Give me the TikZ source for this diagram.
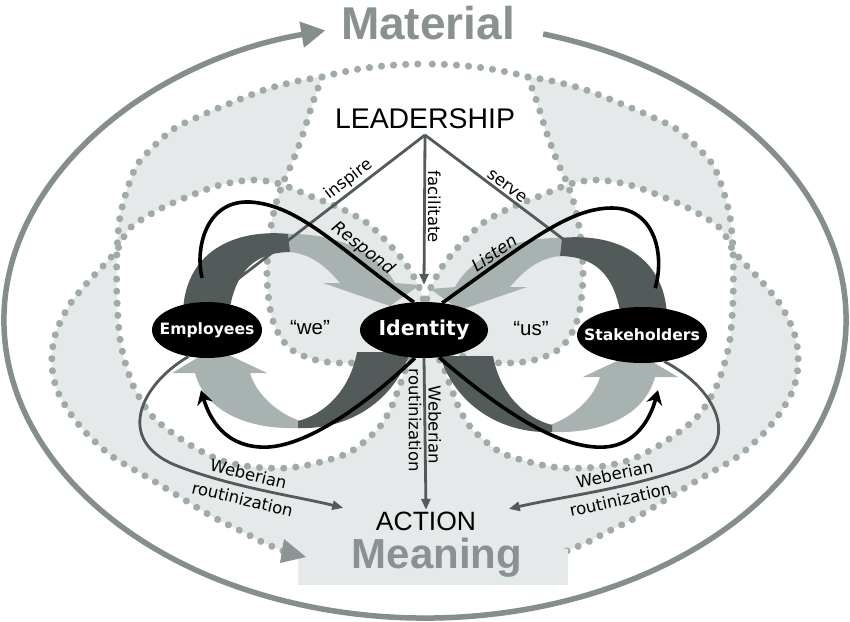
\documentclass[tikz,border=0pt]{standalone}
\usepackage{fontspec}
\setmainfont{Liberation Sans}
\newfontfamily\dejavu{DejaVu Sans}
\usetikzlibrary{arrows.meta,shapes}
\definecolor{bandgrey}{RGB}{230,233,233}
\definecolor{dotgrey}{RGB}{160,170,167}
\definecolor{rimgrey}{RGB}{133,142,140}
\definecolor{titlegrey}{RGB}{138,146,145}
\definecolor{backside}{RGB}{82,90,90}
\definecolor{frontside}{RGB}{168,178,176}
\definecolor{linkgrey}{RGB}{82,90,90}
\definecolor{tipgrey}{RGB}{140,149,147}
\tikzset{
  dotrim/.style={draw=dotgrey, line width=7pt, line cap=round, dash pattern=on 0.1pt off 12pt},
  linkarrow/.style={draw=linkgrey, line width=2.8pt, -{Triangle[length=11pt,width=9pt]}},
  swirl/.style={draw=black, line width=3.6pt},
  actor/.style={ellipse, fill=black, text=white, inner sep=0pt, minimum height=56pt,
    font=\dejavu\bfseries\fontsize{15.6}{18}\selectfont},
  tag/.style={font=\dejavu\fontsize{16.5}{26}\selectfont, inner sep=2pt},
  tagit/.style={font=\dejavu\itshape\fontsize{17}{20}\selectfont, inner sep=2pt}
}
% left halves of the dotted bands (pixel units)
\newcommand{\Mleft}{plot[smooth] coordinates {(322,77) (298,81) (267,89) (233,102) (200,116) (175,128) (155,145) (137,165) (127,190) (120,217) (117,250) (117,300) (121,345) (133,385) (153,417) (187,443) (220,460) (253,467) (287,468) (317,463) (350,452) (377,430) (390,410) (400,385) (409,362) (425,345)}
  -- plot[smooth] coordinates {(405,351) (380,358) (350,363) (320,361) (295,352) (281,338) (272,318) (268,293) (267,267) (270,233) (275,207) (283,183) (292,163) (302,137) (312,105)} -- cycle}
\newcommand{\Lline}{plot[smooth] coordinates {(283,551) (262,542) (247,534) (213,517) (180,497) (147,477) (113,457) (87,434) (70,413) (57,390) (52,367) (53,345) (58,327) (70,304) (87,283) (104,265) (117,250) (130,228) (158,210) (187,197) (220,185) (253,180) (280,184) (310,196) (340,208) (367,223) (388,243) (406,264) (419,287) (425,305)}}
\newcommand{\Lleft}{\Lline -- (425,551) -- cycle}
\newcommand{\Ttop}{(322,77) .. controls (355,68) and (390,64) .. (425,64)}
% turning arrows on the left side
\newcommand{\bigarrows}{%
  \fill[backside] (183,312) .. controls (185,255) and (230,228) .. (290,234) -- (292,252)
    .. controls (255,252) and (236,270) .. (229,312) -- cycle;
  \fill[frontside] (288,234) .. controls (340,233) and (380,255) .. (395,283) -- (420,285)
    -- (390,306) -- (323,283) -- (340,283) .. controls (325,265) and (310,254) .. (290,252) -- cycle;
  \fill[frontside] (195,373) .. controls (205,410) and (245,430) .. (300,428) -- (300,421)
    .. controls (275,412) and (256,393) .. (250,373) -- (267,373) -- (214,348) -- (172,373) -- cycle;
  \fill[backside] (298,428) .. controls (350,430) and (395,400) .. (410,352) -- (357,352)
    .. controls (350,390) and (325,414) .. (298,421) -- cycle;
}

\begin{document}
\begin{tikzpicture}[x=1pt, y=-1pt]
  \useasboundingbox[fill=white] (0,0) rectangle (850,621);
  % bands: left half, then mirrored
  \foreach \m in {1,-1}{
    \begin{scope}[xshift={425pt-425pt*\m}, xscale=\m]
      \begin{scope}
        \clip (0,0) rectangle (425.5,621);
        \fill[bandgrey, even odd rule] \Mleft \Lleft;
      \end{scope}
      \draw[dotrim] \Mleft;
      \draw[dotrim] \Lline;
      \draw[dotrim] \Ttop;
    \end{scope}
  }
  \fill[bandgrey] (298,549) rectangle (568,585);
  \fill[tipgrey] (284,539) -- (306,557) -- (280,563) -- cycle;
  % rim
  \draw[rimgrey, line width=5.5pt, -{Triangle[length=24pt,width=25pt]}]
    (425,320) ++(-73.7:421 and 298) arc[start angle=-73.7, end angle=256.3, x radius=421, y radius=298];
  \node[font=\bfseries\fontsize{46}{50}\selectfont, text=titlegrey, anchor=base] (material) at (428,39) {Material};
  \node[font=\bfseries\fontsize{42}{46}\selectfont, text=titlegrey, anchor=base] (meaning) at (437,568) {Meaning};
  \foreach \m in {1,-1}{
    \begin{scope}[xshift={425pt-425pt*\m}, xscale=\m, yshift={2pt*\m-2pt}]
      \bigarrows
    \end{scope}
  }
  % nodes
  \node[font=\fontsize{28.4}{32}\selectfont, anchor=base] (lead) at (425,128) {LEADERSHIP};
  \coordinate (apex) at (425,135);
  \node[font=\fontsize{26.5}{30}\selectfont, anchor=base, inner sep=1.5pt] (act) at (426,530) {ACTION};
  \node[actor, minimum width=110pt] (emp) at (207,330) {\makebox[0pt]{Employees}};
  \node[actor, minimum width=128pt, font=\dejavu\bfseries\fontsize{20.5}{24}\selectfont] (idn) at (424,330) {\makebox[0pt]{Identity}};
  \node[actor, minimum width=130pt] (stk) at (642,335) {\makebox[0pt]{Stakeholders}};
  \node[font=\fontsize{20.5}{24}\selectfont] (we) at (310,328) {``we''};
  \node[font=\fontsize{20.5}{24}\selectfont] (us) at (531,329) {``us''};
  % leadership links
  \draw[linkarrow] (apex) -- node[tag, sloped, above, pos=0.33] {inspire} ([yshift=5pt]emp.75);
  \draw[linkarrow] (apex) -- node[tag, pos=0.48, rotate=-90, anchor=south] {facilitate} ([yshift=17pt]idn.north);
  \draw[linkarrow] (apex) -- node[tag, sloped, above, pos=0.37] {serve} ([yshift=15pt]stk.107);
  \draw[linkarrow] (idn.south) -- node[tag, pos=0.44, rotate=-90, anchor=south] {Weberian}
    node[tag, pos=0.41, rotate=-90, anchor=north] {routinization} (act.north);
  \draw[linkarrow] (emp.235) .. controls (140,385) and (115,440) .. (175,465)
    .. controls (230,487) and (300,497) .. ([shift={(-31,-13)}]act.west)
    node[tag, pos=0.4, sloped, align=center] {Weberian\\routinization};
  \draw[linkarrow] (stk.-50) .. controls (720,390) and (745,450) .. (680,470)
    .. controls (620,490) and (560,497) .. ([shift={(31,-12)}]act.east)
    node[tag, pos=0.35, sloped, align=center] {Weberian\\routinization};
  % black loops
  \draw[swirl] (idn.110) .. controls (340,250) and (300,205) .. (250,202)
    node[tagit, pos=0.3, sloped, above] {Respond}
    .. controls (205,200) and (195,250) .. ([yshift=24pt]emp.100);
  \draw[swirl, -{Stealth[length=14pt,width=16pt]}] (idn.252) .. controls (360,410) and (300,450) .. (260,447)
    .. controls (225,445) and (210,420) .. ([shift={(-6,32)}]emp.south);
  \draw[swirl] (idn.56) .. controls (530,240) and (570,208) .. (612,208)
    node[tagit, pos=0.25, sloped, above] {Listen}
    .. controls (655,208) and (665,255) .. ([shift={(3,-19)}]stk.70);
  \draw[swirl, -{Stealth[length=14pt,width=16pt]}] (idn.-61) .. controls (500,410) and (560,450) .. (605,447)
    .. controls (635,445) and (650,420) .. ([shift={(16,27)}]stk.south);
\end{tikzpicture}
\end{document}
